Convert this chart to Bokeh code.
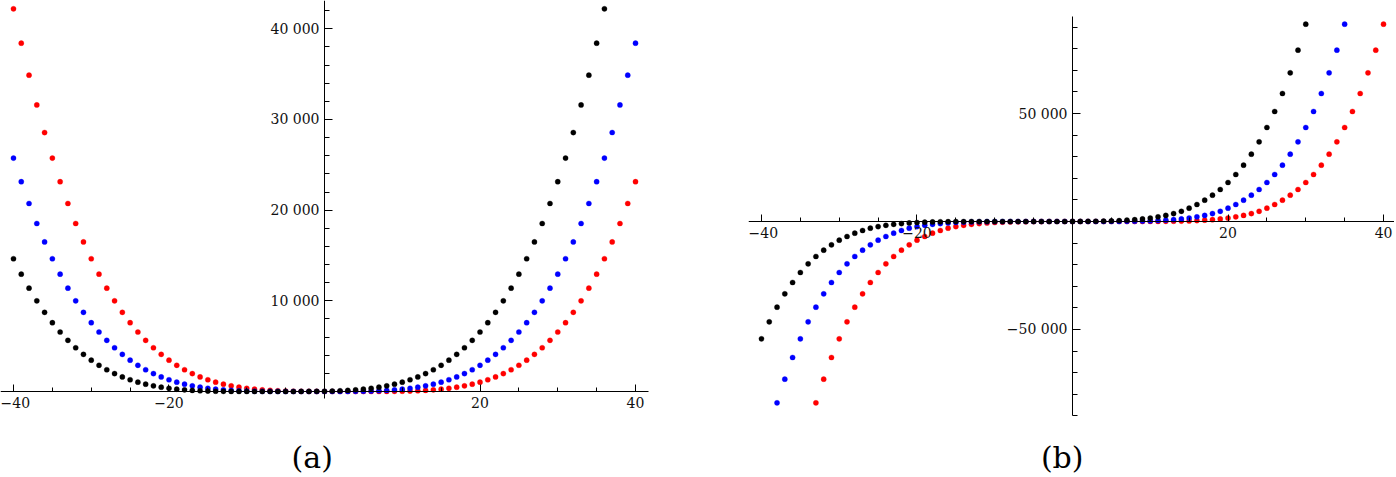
from bokeh.plotting import figure
from bokeh.layouts import row
from bokeh.models import LinearAxis, FixedTicker, CustomJSTickFormatter, Range1d, Label
from bokeh.embed import file_html
from bokeh.resources import INLINE

# ---------------- data: panel (a) ----------------
black_a_x = list(range(-40, 37))
black_a = [14641, 12945, 11401, 10000, 8732, 7588, 6561, 5642, 4823, 4096, 3455, 2892, 2401,
           1975, 1609, 1296, 1031, 809, 625, 474, 353, 256, 181, 123, 81, 51, 30, 16, 8, 3, 1,
           0, 0, 0, 0, 0, 1, 3, 8, 16, 30, 51, 81, 123, 181, 256, 353, 474, 625, 809, 1031, 1296,
           1609, 1975, 2401, 2892, 3455, 4096, 4823, 5642, 6561, 7588, 8732, 10000, 11401, 12945,
           14641, 16498, 18526, 20736, 23138, 25742, 28561, 31605, 34886, 38416, 42207]
blue_a_x = list(range(-40, 41))
blue_a = [25742, 23138, 20736, 18526, 16498, 14641, 12945, 11401, 10000, 8732, 7588, 6561, 5642,
          4823, 4096, 3455, 2892, 2401, 1975, 1609, 1296, 1031, 809, 625, 474, 353, 256, 181, 123,
          81, 51, 30, 16, 8, 3, 1, 0, 0, 0, 0, 0, 1, 3, 8, 16, 30, 51, 81, 123, 181, 256, 353, 474,
          625, 809, 1031, 1296, 1609, 1975, 2401, 2892, 3455, 4096, 4823, 5642, 6561, 7588, 8732,
          10000, 11401, 12945, 14641, 16498, 18526, 20736, 23138, 25742, 28561, 31605, 34886, 38416]
red_a_x = list(range(-40, 41))
red_a = [42207, 38416, 34886, 31605, 28561, 25742, 23138, 20736, 18526, 16498, 14641, 12945, 11401,
         10000, 8732, 7588, 6561, 5642, 4823, 4096, 3455, 2892, 2401, 1975, 1609, 1296, 1031, 809,
         625, 474, 353, 256, 181, 123, 81, 51, 30, 16, 8, 3, 1, 0, 0, 0, 0, 0, 1, 3, 8, 16, 30, 51,
         81, 123, 181, 256, 353, 474, 625, 809, 1031, 1296, 1609, 1975, 2401, 2892, 3455, 4096, 4823,
         5642, 6561, 7588, 8732, 10000, 11401, 12945, 14641, 16498, 18526, 20736, 23138]

# ---------------- data: panel (b) ----------------
black_b_x = list(range(-40, 31))
black_b = [-54320, -46450, -39670, -33490, -28240, -23610, -19600, -16200, -13270, -10800, -8640,
           -6950, -5400, -4170, -3090, -2356, -1776, -1317, -957, -681, -473, -319, -208, -130, -78,
           -44, -23, -11, -4, -2, 0, 0, 0, 0, 0, 0, 0, 1, 3, 8, 17, 35, 63, 108, 176, 275, 412, 600,
           851, 1180, 1606, 2148, 2829, 3675, 4727, 6170, 7870, 9880, 12190, 14820, 18060, 21760,
           26080, 31170, 36880, 43520, 50930, 59260, 68830, 79330, 91360]
blue_b_x = list(range(-38, 36))
blue_b = [-83960, -73000, -62970, -54320, -46450, -39670, -33490, -28240, -23610, -19600, -16200,
          -13270, -10800, -8640, -6950, -5400, -4170, -3090, -2356, -1776, -1317, -957, -681, -473,
          -319, -208, -130, -78, -44, -23, -11, -4, -2, 0, 0, 0, 0, 0, 0, 0, 1, 3, 8, 17, 35, 63, 108,
          176, 275, 412, 600, 851, 1180, 1606, 2148, 2829, 3675, 4727, 6170, 7870, 9880, 12190, 14820,
          18060, 21760, 26080, 31170, 36880, 43520, 50930, 59260, 68830, 79330, 91360]
red_b_x = list(range(-33, 41))
red_b = [-83960, -73000, -62970, -54320, -46450, -39670, -33490, -28240, -23610, -19600, -16200,
         -13270, -10800, -8640, -6950, -5400, -4170, -3090, -2356, -1776, -1317, -957, -681, -473,
         -319, -208, -130, -78, -44, -23, -11, -4, -2, 0, 0, 0, 0, 0, 0, 0, 1, 3, 8, 17, 35, 63, 108,
         176, 275, 412, 600, 851, 1180, 1606, 2148, 2829, 3675, 4727, 6170, 7870, 9880, 12190, 14820,
         18060, 21760, 26080, 31170, 36880, 43520, 50930, 59260, 68830, 79330, 91360]

# ---------------- ticks ----------------
x_major = [-40, -20, 20, 40]
x_minor = [-35, -30, -25, -15, -10, -5, 5, 10, 15, 25, 30, 35]
ya_major = [10000, 20000, 30000, 40000]
ya_minor = [2000, 4000, 6000, 8000, 12000, 14000, 16000, 18000, 22000, 24000, 26000, 28000,
            32000, 34000, 36000, 38000, 42000]
yb_major = [-50000, 50000]
yb_minor = [-90000, -80000, -70000, -60000, -40000, -30000, -20000, -10000,
            10000, 20000, 30000, 40000, 60000, 70000, 80000, 90000]

FONT = "DejaVu Serif"
fmt_code = r"""
const a = Math.abs(tick);
let s = String(Math.round(a));
if (s.length > 4) { s = s.slice(0, s.length - 3) + ' ' + s.slice(s.length - 3); }
return (tick < 0 ? '\u2212' : '') + s;
"""

FH = 475  # frame height (whole figure)


def style_axis(ax, tick_in, minor_in):
    ax.axis_line_color = "black"
    ax.axis_line_width = 1
    ax.major_tick_line_color = "black"
    ax.minor_tick_line_color = "black"
    ax.major_tick_in = tick_in
    ax.major_tick_out = 0
    ax.minor_tick_in = minor_in
    ax.minor_tick_out = 0
    ax.major_label_text_font = FONT
    ax.major_label_text_font_size = "14px"
    ax.major_label_text_color = "#111111"
    ax.major_label_standoff = 5
    ax.formatter = CustomJSTickFormatter(code=fmt_code)


def make_panel(xr, yr, fw, xbounds, ybounds, yt_major, yt_minor, series, caption, cap_xy):
    p = figure(x_range=Range1d(*xr), y_range=Range1d(*yr), frame_width=fw, frame_height=FH,
               x_axis_type=None, y_axis_type=None, toolbar_location=None,
               output_backend="svg", outline_line_color=None,
               min_border_left=0, min_border_right=0, min_border_top=0, min_border_bottom=0)
    xa = LinearAxis(fixed_location=0, bounds=xbounds,
                    ticker=FixedTicker(ticks=x_major, minor_ticks=x_minor))
    style_axis(xa, 7, 4)
    p.add_layout(xa, "below")
    ya = LinearAxis(fixed_location=0, bounds=ybounds,
                    ticker=FixedTicker(ticks=yt_major, minor_ticks=yt_minor))
    style_axis(ya, 8, 5)
    p.add_layout(ya, "left")
    for xs, ys, col in series:
        p.scatter(xs, ys, size=5.2, fill_color=col, line_color=col, line_width=0.3)
    p.add_layout(Label(x=cap_xy[0], y=cap_xy[1], x_units="screen", y_units="screen", text=caption,
                       text_align="center", text_baseline="middle", text_font=FONT,
                       text_font_size="30px", text_color="black"))
    return p


pa = make_panel((-41.67, 54.53), (-9264, 43123), 748, (-41.67, 41.67), (-772, 43123),
                ya_major, ya_minor,
                [(red_a_x, red_a, "#ff0000"), (blue_a_x, blue_a, "#0000ff"), (black_a_x, black_a, "#000000")],
                "(a)", (311.7, 18))
pb = make_panel((-41.67, 41.41), (-117602, 102323), 646, (-41.67, 41.41), (-89820, 94900),
                yb_major, yb_minor,
                [(red_b_x, red_b, "#ff0000"), (blue_b_x, blue_b, "#0000ff"), (black_b_x, black_b, "#000000")],
                "(b)", (313.7, 18))

layout = row(pa, pb)
open("out.html", "w").write(file_html(layout, INLINE))
